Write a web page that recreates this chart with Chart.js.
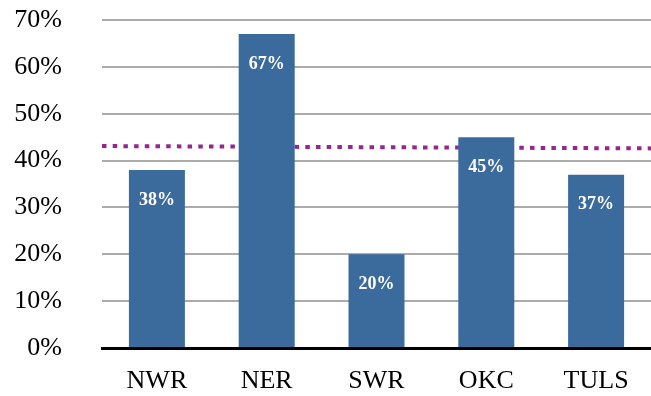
<!DOCTYPE html>
<html>
<head>
<meta charset="utf-8">
<script src="https://cdn.jsdelivr.net/npm/chart.js@4.4.1/dist/chart.umd.min.js"></script>
<style>
  html, body { margin: 0; padding: 0; background: #fff; }
  #wrap { width: 651px; height: 396px; }
</style>
</head>
<body>
<div id="wrap"><canvas id="regionChart"></canvas></div>
<script>
// regions and their shares
const regions = ['NWR', 'NER', 'SWR', 'OKC', 'TULS'];
const shares = [38, 67, 20, 45, 37];
// statewide average line, left edge to right edge
const averageEnds = [43.1, 42.6];

const serif = '"Liberation Serif", "Times New Roman", serif';

// dotted average line across the whole plot, behind the bars
const averageLine = {
    id: 'averageLine',
    beforeDatasetsDraw(chart) {
        const { ctx, chartArea, scales } = chart;
        ctx.save();
        ctx.strokeStyle = '#93278F';
        ctx.lineWidth = 4;
        ctx.lineCap = 'butt';
        ctx.setLineDash([4.5, 6.2]);
        ctx.beginPath();
        ctx.moveTo(chartArea.left, scales.y.getPixelForValue(averageEnds[0]));
        ctx.lineTo(chartArea.right, scales.y.getPixelForValue(averageEnds[1]));
        ctx.stroke();
        ctx.restore();
    }
};

// white bold value inside the top of each bar
const barValueLabels = {
    id: 'barValueLabels',
    afterDatasetsDraw(chart) {
        const ctx = chart.ctx;
        const meta = chart.getDatasetMeta(0);
        ctx.save();
        ctx.font = 'bold 18px ' + serif;
        ctx.fillStyle = '#ffffff';
        ctx.textAlign = 'center';
        ctx.textBaseline = 'middle';
        meta.data.forEach((bar, i) => {
            ctx.fillText(shares[i] + '%', bar.x, bar.y + 30);
        });
        ctx.restore();
    }
};

const ctx = document.getElementById('regionChart').getContext('2d');
const regionChart = new Chart(ctx, {
    type: 'bar',
    data: {
        labels: regions,
        datasets: [{
            data: shares,
            backgroundColor: '#3B6A9C',
            barPercentage: 0.51,
            categoryPercentage: 1
        }]
    },
    options: {
        responsive: true,
        maintainAspectRatio: false,
        animation: false,
        layout: { padding: { top: 20, right: 0, bottom: 0, left: 0 } },
        plugins: {
            legend: { display: false },
            tooltip: { enabled: false }
        },
        scales: {
            x: {
                grid: { display: false, drawTicks: false },
                border: { display: true, color: '#000000', width: 3 },
                ticks: {
                    color: '#000000',
                    font: { family: serif, size: 26 },
                    padding: 18
                },
                afterFit(scale) { scale.height = 48; }
            },
            y: {
                min: 0,
                max: 70,
                grid: { color: '#ABABAB', lineWidth: 2, drawTicks: false },
                border: { display: false },
                ticks: {
                    stepSize: 10,
                    color: '#000000',
                    font: { family: serif, size: 26 },
                    padding: 40,
                    callback: v => v + '%'
                },
                afterFit(scale) {
                    // the wide tick padding is horizontal only
                    scale.width = 102;
                    scale.paddingTop = 0;
                    scale.paddingBottom = 0;
                }
            }
        }
    },
    plugins: [averageLine, barValueLabels]
});
</script>
</body>
</html>
